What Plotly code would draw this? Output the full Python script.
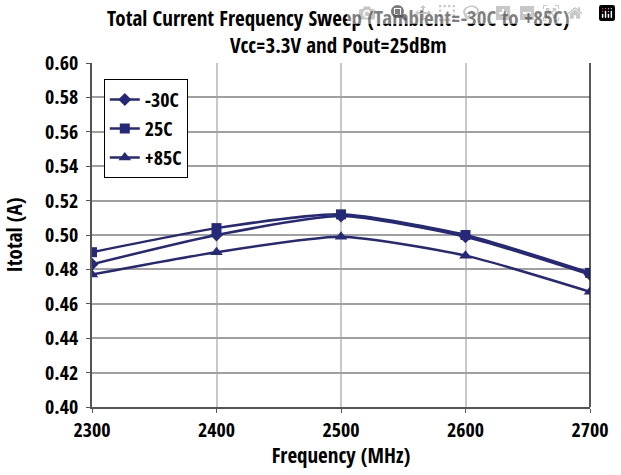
import plotly.graph_objects as go

freq = [2300, 2400, 2500, 2600, 2700]
i_m30 = [0.483, 0.500, 0.511, 0.499, 0.477]
i_25 = [0.490, 0.504, 0.512, 0.500, 0.478]
i_85 = [0.477, 0.490, 0.499, 0.488, 0.467]
names = ["-30C", "25C", "+85C"]
symbols = ["diamond", "square", "triangle-up"]
series = [i_m30, i_25, i_85]
yticks = [0.40, 0.42, 0.44, 0.46, 0.48, 0.50, 0.52, 0.54, 0.56, 0.58, 0.60]
title_lines = ["Total Current Frequency Sweep (Tambient=-30C to +85C)", "Vcc=3.3V and Pout=25dBm"]
color = "#262878"
FONT = "Open Sans Condensed, DejaVu Sans Condensed, sans-serif"

W, H = 621, 469
ML, MR, MT = 90, 24, 63
MB = H - 407
PW, PH = W - ML - MR, H - MT - MB

fig = go.Figure()
for nm, sym, ys in zip(names, symbols, series):
    fig.add_trace(go.Scatter(
        x=freq, y=ys, name=nm, mode="lines+markers",
        line=dict(color=color, width=2.5, shape="spline", smoothing=0.6),
        marker=dict(symbol=sym, size=10 if sym != "triangle-up" else 11, color=color),
    ))

fig.update_layout(
    width=W, height=H,
    margin=dict(l=ML, r=MR, t=MT, b=MB),
    paper_bgcolor="white", plot_bgcolor="white",
    font=dict(family=FONT, color="black", size=20, weight="bold"),
    showlegend=True,
    legend=dict(
        x=(102 - ML) / PW, y=1 - (79 - MT) / PH, xanchor="left", yanchor="top",
        bordercolor="black", borderwidth=1, bgcolor="white",
        font=dict(family=FONT, size=20, color="black", weight="bold"),
        tracegroupgap=0, itemwidth=30,
    ),
    xaxis=dict(
        range=[2300, 2700], tickvals=freq,
        showgrid=True, gridcolor="#c8c8c8", gridwidth=2,
        showline=True, linecolor="#555555", linewidth=1.5,
        ticks="outside", ticklen=4, tickcolor="#555555",
        title=dict(text="Frequency (MHz)", font=dict(family=FONT, size=21, weight="bold"), standoff=0),
        tickfont=dict(family=FONT, size=20, weight="bold"), zeroline=False,
    ),
    yaxis=dict(
        range=[0.40, 0.60], tickvals=yticks, tickformat=".2f",
        showgrid=True, gridcolor="#a0a0a0", gridwidth=1.5,
        showline=True, linecolor="#555555", linewidth=1.5,
        ticks="outside", ticklen=4, tickcolor="#555555", ticklabelstandoff=4,
        title=dict(text="Itotal (A)", font=dict(family=FONT, size=21, weight="bold"), standoff=18),
        tickfont=dict(family=FONT, size=20, weight="bold"), zeroline=False,
    ),
    shapes=[dict(type="line", xref="paper", yref="paper", x0=1, x1=1, y0=0, y1=1,
                 line=dict(color="#222222", width=1.5))],
)
fig.add_annotation(text="<br>".join(title_lines), x=(341 - ML) / PW, xref="paper",
                   y=1 + (MT - 31) / PH, yref="paper",
                   xanchor="center", yanchor="middle", showarrow=False,
                   font=dict(family=FONT, size=21, weight="bold", color="black"))

fig.write_html("out.html", post_script="document.body.style.margin='0';")
